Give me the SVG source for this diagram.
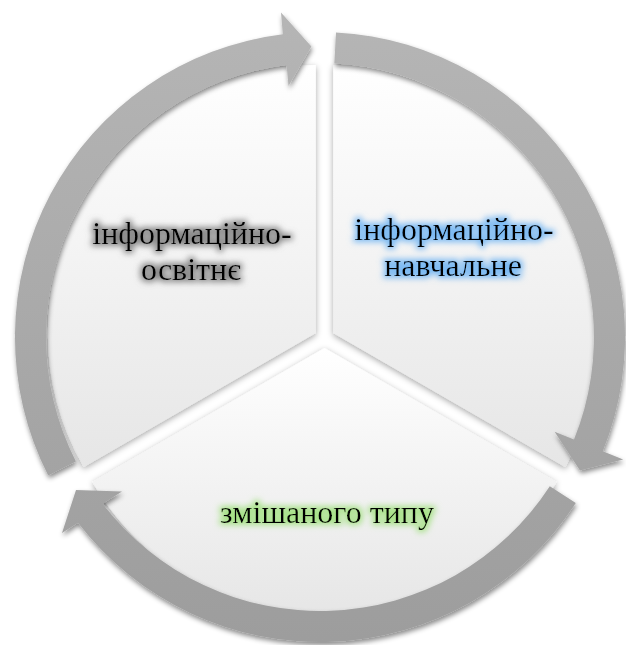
<svg xmlns="http://www.w3.org/2000/svg" width="626" height="645" viewBox="0 0 626 645">
<defs>
<style>
.lbl{font-family:"Liberation Serif","Times New Roman",serif;font-size:32px;fill:#000;text-anchor:middle}
.wedge{filter:url(#wshadow)}
.arrow{fill:url(#arrowGrad);filter:url(#ashadow)}
</style>
<linearGradient id="wedgeGrad" x1="0" y1="0" x2="0" y2="1">
<stop offset="0" stop-color="#ffffff"/>
<stop offset="1" stop-color="#e6e6e6"/>
</linearGradient>
<linearGradient id="arrowGrad" gradientUnits="userSpaceOnUse" x1="0" y1="20" x2="0" y2="640">
<stop offset="0" stop-color="#b5b5b5"/>
<stop offset="1" stop-color="#9d9d9d"/>
</linearGradient>
<filter id="wshadow" x="-10%" y="-10%" width="120%" height="120%">
<feDropShadow dx="0" dy="2" stdDeviation="3" flood-color="#000" flood-opacity="0.35"/>
</filter>
<filter id="ashadow" x="-10%" y="-10%" width="120%" height="120%">
<feDropShadow dx="1" dy="3" stdDeviation="2.5" flood-color="#000" flood-opacity="0.45"/>
</filter>
<filter id="glowGray" x="-20%" y="-50%" width="140%" height="200%">
<feMorphology in="SourceAlpha" operator="dilate" radius="2" result="d"/>
<feGaussianBlur in="d" stdDeviation="3" result="b"/>
<feFlood flood-color="#7a7a7a" flood-opacity="0.9"/>
<feComposite in2="b" operator="in" result="g"/>
<feMerge><feMergeNode in="g"/><feMergeNode in="SourceGraphic"/></feMerge>
</filter>
<filter id="glowBlue" x="-20%" y="-50%" width="140%" height="200%">
<feMorphology in="SourceAlpha" operator="dilate" radius="2" result="d"/>
<feGaussianBlur in="d" stdDeviation="3" result="b"/>
<feFlood flood-color="#6cb2f2" flood-opacity="0.9"/>
<feComposite in2="b" operator="in" result="g"/>
<feMerge><feMergeNode in="g"/><feMergeNode in="SourceGraphic"/></feMerge>
</filter>
<filter id="glowGreen" x="-20%" y="-50%" width="140%" height="200%">
<feMorphology in="SourceAlpha" operator="dilate" radius="2" result="d"/>
<feGaussianBlur in="d" stdDeviation="3" result="b"/>
<feFlood flood-color="#9fe07c" flood-opacity="0.9"/>
<feComposite in2="b" operator="in" result="g"/>
<feMerge><feMergeNode in="g"/><feMergeNode in="SourceGraphic"/></feMerge>
</filter>
</defs>
<rect x="0" y="0" width="626" height="645" fill="#ffffff"/>

<g id="node-osvitne">
<path class="wedge" fill="url(#wedgeGrad)" d="M315.8,333 L315.8,65 A268,268 0 0 0 83.7,467 Z"/>
</g>
<g id="node-navchalne">
<path class="wedge" fill="url(#wedgeGrad)" d="M333.2,333 L333.2,65 A268,268 0 0 1 565.3,467 Z"/>
</g>
<g id="node-zmishanoho">
<path class="wedge" fill="url(#wedgeGrad)" d="M324.5,348 L556.6,482 A268,268 0 0 1 92.4,482 Z"/>
</g>

<g id="connectors">
<path class="arrow" d="M48.2,475.5 A305,305 0 0 1 282.8,34.3 L281,12.5 L311.4,46.6 L288.5,85.9 L286.6,65.1 A274,274 0 0 0 75.9,461.4 Z"/>
<path class="arrow" d="M336,32.4 A305,305 0 0 1 602.8,451.3 L623.2,459.5 L580,470.5 L554.6,431.8 L574,439.6 A274,274 0 0 0 334.3,63.4 Z"/>
<path class="arrow" d="M575.8,503.1 A305,305 0 0 1 78,522.7 L62,533 L76,490 L122,491.5 L102.6,503.8 A274,274 0 0 0 549.8,486.2 Z"/>
</g>

<g id="label-osvitne" filter="url(#glowGray)">
<text class="lbl" x="192" y="244">інформаційно-</text>
<text class="lbl" x="191" y="280">освітнє</text>
</g>
<g id="label-navchalne" filter="url(#glowBlue)">
<text class="lbl" x="454" y="240">інформаційно-</text>
<text class="lbl" x="453" y="276">навчальне</text>
</g>
<g id="label-zmishanoho" filter="url(#glowGreen)">
<text class="lbl" x="327" y="523">змішаного типу</text>
</g>
</svg>
